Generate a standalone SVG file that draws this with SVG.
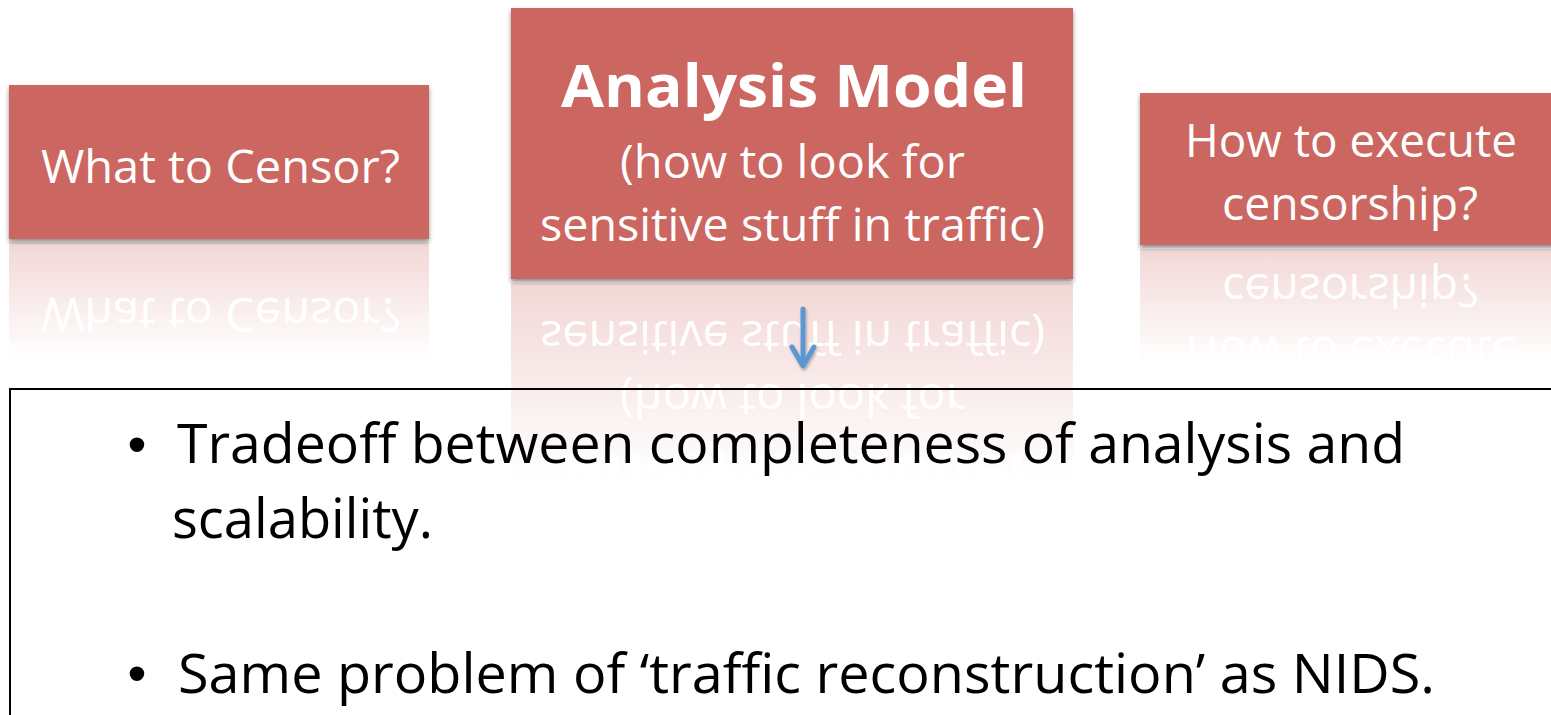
<svg xmlns="http://www.w3.org/2000/svg" xmlns:xlink="http://www.w3.org/1999/xlink" width="1551" height="715" viewBox="0 0 1551 715">
  <style>
    .box { fill: #CC6660; }
    .label { fill: #FFFFFF; font-family: "Open Sans", "Noto Sans", "Liberation Sans", sans-serif; font-size: 46px; text-anchor: middle; }
    .title { font-weight: bold; font-size: 59px; }
    .body { fill: #000000; font-family: "Open Sans", "Noto Sans", "Liberation Sans", sans-serif; font-size: 54px; }
    .bullet { fill: #000000; font-family: "Liberation Sans", Arial, sans-serif; font-size: 54px; text-anchor: middle; }
    .frame { fill: none; stroke: #000000; stroke-width: 2; }
    .arrow { fill: none; stroke: #5B97D0; stroke-width: 5; stroke-linecap: round; stroke-linejoin: round; }
  </style>
  <defs>
    <filter id="shadow" x="-5%" y="-10%" width="110%" height="130%">
      <feDropShadow dx="0" dy="3" stdDeviation="2.2" flood-color="#000000" flood-opacity="0.45"/>
    </filter>
    <filter id="arrowShadow" x="-50%" y="-20%" width="200%" height="140%">
      <feDropShadow dx="1" dy="2" stdDeviation="1.5" flood-color="#000000" flood-opacity="0.3"/>
    </filter>
    <!-- fading masks for the mirrored boxes -->
    <linearGradient id="fadeLeft" gradientUnits="userSpaceOnUse" x1="0" y1="242" x2="0" y2="358">
      <stop offset="0" stop-color="#FFFFFF" stop-opacity="0.26"/>
      <stop offset="1" stop-color="#FFFFFF" stop-opacity="0"/>
    </linearGradient>
    <linearGradient id="fadeMid" gradientUnits="userSpaceOnUse" x1="0" y1="282" x2="0" y2="480">
      <stop offset="0" stop-color="#FFFFFF" stop-opacity="0.26"/>
      <stop offset="1" stop-color="#FFFFFF" stop-opacity="0"/>
    </linearGradient>
    <linearGradient id="fadeRight" gradientUnits="userSpaceOnUse" x1="0" y1="248" x2="0" y2="362">
      <stop offset="0" stop-color="#FFFFFF" stop-opacity="0.26"/>
      <stop offset="1" stop-color="#FFFFFF" stop-opacity="0"/>
    </linearGradient>
    <mask id="maskLeft" maskUnits="userSpaceOnUse" x="0" y="0" width="1551" height="715">
      <rect x="0" y="242" width="1551" height="120" fill="url(#fadeLeft)"/>
    </mask>
    <mask id="maskMid" maskUnits="userSpaceOnUse" x="0" y="0" width="1551" height="715">
      <rect x="0" y="282" width="1551" height="200" fill="url(#fadeMid)"/>
    </mask>
    <mask id="maskRight" maskUnits="userSpaceOnUse" x="0" y="0" width="1551" height="715">
      <rect x="0" y="248" width="1551" height="120" fill="url(#fadeRight)"/>
    </mask>
  </defs>

  <rect x="0" y="0" width="1551" height="715" fill="#FFFFFF"/>

  <!-- mirrored reflections under the three boxes -->
  <g id="reflections">
    <g mask="url(#maskLeft)">
      <rect class="box" x="9" y="242" width="420" height="154"/>
      <use xlink:href="#what-label" transform="translate(0,481) scale(1,-1)"/>
    </g>
    <g mask="url(#maskMid)">
      <rect class="box" x="511" y="283" width="562" height="271"/>
      <use xlink:href="#analysis-label" transform="translate(0,562) scale(1,-1)"/>
    </g>
    <g mask="url(#maskRight)">
      <rect class="box" x="1140" y="249" width="420" height="152"/>
      <use xlink:href="#execute-label" transform="translate(0,494) scale(1,-1)"/>
    </g>
  </g>

  <!-- left node -->
  <g id="node-what">
    <rect class="box" x="9" y="85" width="420" height="154" filter="url(#shadow)"/>
    <g id="what-label">
      <text class="label" x="220.5" y="183" textLength="359" lengthAdjust="spacingAndGlyphs">What to Censor?</text>
    </g>
  </g>

  <!-- centre node -->
  <g id="node-analysis">
    <rect class="box" x="511" y="8" width="562" height="271" filter="url(#shadow)"/>
    <g id="analysis-label">
      <text class="label title" x="794" y="107" textLength="466" lengthAdjust="spacingAndGlyphs">Analysis Model</text>
      <text class="label" x="792.5" y="178" textLength="345" lengthAdjust="spacingAndGlyphs">(how to look for</text>
      <text class="label" x="792.5" y="241" textLength="505" lengthAdjust="spacingAndGlyphs">sensitive stuff in traffic)</text>
    </g>
  </g>

  <!-- right node -->
  <g id="node-execute">
    <rect class="box" x="1140" y="93" width="420" height="152" filter="url(#shadow)"/>
    <g id="execute-label">
      <text class="label" x="1351" y="157" textLength="332" lengthAdjust="spacingAndGlyphs">How to execute</text>
      <text class="label" x="1350" y="220" textLength="256" lengthAdjust="spacingAndGlyphs">censorship?</text>
    </g>
  </g>

  <!-- connector from the centre node down to the notes -->
  <g id="connectors" filter="url(#arrowShadow)">
    <path class="arrow" d="M803,309 L803,364"/>
    <path class="arrow" d="M792,347 L803,366 L814,347"/>
  </g>

  <!-- notes panel -->
  <g id="node-notes">
    <rect class="frame" x="10" y="389" width="1600" height="400"/>
    <text class="bullet" x="137" y="463">•</text>
    <text class="body" x="177" y="463" textLength="1228" lengthAdjust="spacingAndGlyphs">Tradeoff between completeness of analysis and</text>
    <text class="body" x="172" y="538" textLength="261" lengthAdjust="spacingAndGlyphs">scalability.</text>
    <text class="bullet" x="137" y="692">•</text>
    <text class="body" x="178" y="693" textLength="1257" lengthAdjust="spacingAndGlyphs">Same problem of ‘traffic reconstruction’ as NIDS.</text>
  </g>
</svg>
